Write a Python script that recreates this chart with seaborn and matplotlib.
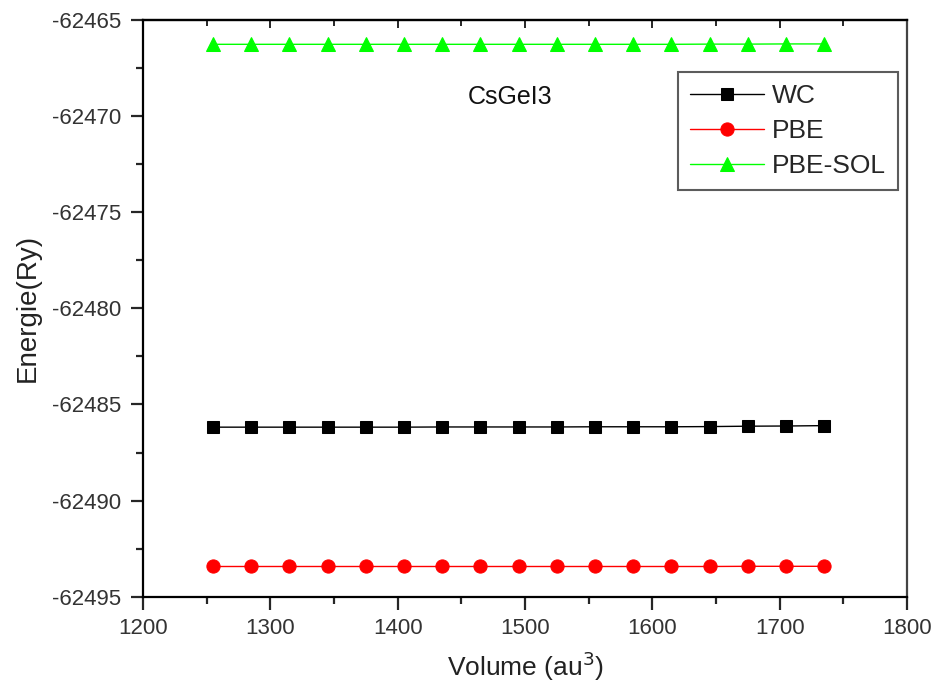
import numpy as np
import pandas as pd
import matplotlib
matplotlib.use("Agg")
import matplotlib.pyplot as plt
from matplotlib.ticker import MultipleLocator
import seaborn as sns

volume = [1255, 1285, 1315, 1345, 1375, 1405, 1435, 1465, 1495,
          1525, 1555, 1585, 1615, 1645, 1675, 1705, 1735]
wc = [-62486.18, -62486.18, -62486.18, -62486.18, -62486.18, -62486.18,
      -62486.17, -62486.17, -62486.17, -62486.17, -62486.16, -62486.16,
      -62486.16, -62486.15, -62486.13, -62486.12, -62486.10]
pbe = [-62493.43, -62493.43, -62493.43, -62493.43, -62493.43, -62493.43,
       -62493.43, -62493.43, -62493.43, -62493.43, -62493.43, -62493.43,
       -62493.43, -62493.43, -62493.42, -62493.42, -62493.42]
pbesol = [-62466.26, -62466.26, -62466.26, -62466.26, -62466.26, -62466.26,
          -62466.26, -62466.26, -62466.26, -62466.26, -62466.26, -62466.26,
          -62466.26, -62466.25, -62466.25, -62466.24, -62466.24]
series_names = ["WC", "PBE", "PBE-SOL"]

df = pd.concat([
    pd.DataFrame({"Volume": volume, "E": wc, "Method": "WC"}),
    pd.DataFrame({"Volume": volume, "E": pbe, "Method": "PBE"}),
    pd.DataFrame({"Volume": volume, "E": pbesol, "Method": "PBE-SOL"}),
])

sns.set_style("ticks")
plt.rcParams["font.family"] = ["Liberation Sans", "DejaVu Sans"]
plt.rcParams["axes.unicode_minus"] = False

fig = plt.figure(figsize=(9.35, 6.93), dpi=100)
ax = fig.add_axes([0.153, 0.139, 0.817, 0.832])

palette = {"WC": "#000000", "PBE": "#ff0000", "PBE-SOL": "#00ff00"}
markers = {"WC": "s", "PBE": "o", "PBE-SOL": "^"}
sizes = {"WC": 8.5, "PBE": 9.5, "PBE-SOL": 10.5}
for name in series_names:
    sub = df[df["Method"] == name]
    sns.lineplot(data=sub, x="Volume", y="E", ax=ax, color=palette[name],
                 marker=markers[name], markersize=sizes[name],
                 markeredgecolor=palette[name], linewidth=1.0, label=name)

ax.set_xlim(1200, 1800)
ax.set_ylim(-62495, -62465)
ax.xaxis.set_major_locator(MultipleLocator(100))
ax.xaxis.set_minor_locator(MultipleLocator(50))
ax.yaxis.set_major_locator(MultipleLocator(5))
ax.yaxis.set_minor_locator(MultipleLocator(2.5))
ax.ticklabel_format(useOffset=False, style="plain", axis="y")

for s in ax.spines.values():
    s.set_linewidth(1.6)
    s.set_color("black")
ax.spines["right"].set_color("#444444")
ax.tick_params(axis="both", which="major", direction="out", length=9, width=1.6,
               labelsize=16, labelcolor="#333333", pad=7)
ax.tick_params(axis="x", which="major", pad=6)
ax.tick_params(axis="both", which="minor", direction="out", length=5, width=1.6)

# inward ticks along the top spine
sec = ax.secondary_xaxis("top")
sec.xaxis.set_major_locator(MultipleLocator(100))
sec.xaxis.set_minor_locator(MultipleLocator(50))
sec.tick_params(which="major", direction="in", length=6, width=1.4, labeltop=False)
sec.tick_params(which="minor", direction="in", length=4, width=1.4)
sec.spines["top"].set_linewidth(1.6)

ax.set_xlabel("Volume (au$^3$)", fontsize=19, color="#222222", labelpad=8)
ax.set_ylabel("Energie(Ry)", fontsize=20, color="#222222", labelpad=8)

ax.text(0.48, 0.867, "CsGeI3", transform=ax.transAxes, fontsize=18,
        ha="center", va="center", color="#111111")

leg = ax.legend(loc="upper right", bbox_to_anchor=(0.988, 0.91), fontsize=19,
                frameon=True, fancybox=False, handlelength=2.8,
                borderpad=0.45, labelspacing=0.42, handletextpad=0.3,
                borderaxespad=0.0)
leg.get_frame().set_edgecolor("#333333")
leg.get_frame().set_linewidth(1.5)

fig.savefig("out.png", dpi=100)
